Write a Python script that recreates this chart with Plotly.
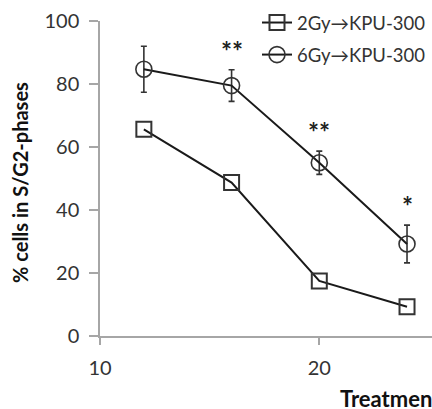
import plotly.graph_objects as go

times = [12, 16, 20, 24]
gy2_vals = [65.6, 48.7, 17.5, 9.3]
gy6_vals = [84.7, 79.5, 55.0, 29.2]
gy6_err = [7.3, 5.0, 3.7, 6.0]
stars = ["", "**", "**", "*"]
x_ticks = [10, 20]
y_ticks = [0, 20, 40, 60, 80, 100]

FONT = "Lato, 'Open Sans', sans-serif"
LINE = "#1a1a1a"
AXIS = "#a6a6a6"

fig = go.Figure()
fig.add_trace(go.Scatter(
    x=times, y=gy2_vals, mode="lines+markers", name="2Gy\u2192KPU-300", legendgroup="a",
    line=dict(color=LINE, width=2),
    marker=dict(symbol="square-open", size=15, color="#333333", line=dict(width=2)),
))
fig.add_trace(go.Scatter(
    x=times, y=gy6_vals, mode="lines+markers", name="6Gy\u2192KPU-300", legendgroup="b",
    line=dict(color=LINE, width=2),
    marker=dict(symbol="circle-open", size=16, color="#333333", line=dict(width=1.6)),
    error_y=dict(type="data", array=gy6_err, color="#333333", thickness=1.6, width=3),
))

for t, v, e, s in zip(times, gy6_vals, gy6_err, stars):
    if s:
        fig.add_annotation(x=t, y=v + e + 6, text="<b>" + s + "</b>", showarrow=False,
                           font=dict(family=FONT, size=26, color="#222222"),
                           yanchor="middle", xanchor="center")

PX_L, PX_T, PW, PH = 100, 21, 332, 315


def px(xp, yp):
    return (xp - PX_L) / PW, (PX_T + PH - yp) / PH


tx, ty = px(338, 398)
fig.add_annotation(x=tx, y=ty, xref="paper", yref="paper",
                   text="<b>Treatment time (h)</b>",
                   showarrow=False, xanchor="left", yanchor="middle",
                   font=dict(family=FONT, size=22, color="#111111"))
yx, yy = px(20, 183)
fig.add_annotation(x=yx, y=yy, xref="paper", yref="paper",
                   text="<b>% cells in S/G2-phases</b>", textangle=-90,
                   showarrow=False, xanchor="center", yanchor="middle",
                   font=dict(family=FONT, size=20, color="#111111"))

lx, ly = px(257, 4)
fig.update_layout(
    width=432, height=409,
    margin=dict(l=PX_L, r=0, t=PX_T, b=409 - PX_T - PH, pad=0, autoexpand=False),
    paper_bgcolor="white", plot_bgcolor="white",
    font=dict(family=FONT, size=20, color="#333333"),
    showlegend=True,
    legend=dict(x=lx, y=ly, xanchor="left", yanchor="top",
                bgcolor="rgba(0,0,0,0)", font=dict(size=18.5, color="#333333"),
                tracegroupgap=5, itemwidth=30),
    xaxis=dict(range=[10, 10 + 332 / 21.93], tickvals=x_ticks, showgrid=False, zeroline=False,
               showline=True, linecolor=AXIS, linewidth=1.5, ticks="outside", ticklen=7,
               tickcolor=AXIS, tickwidth=1.5, ticklabelstandoff=6),
    yaxis=dict(range=[0, 100], tickvals=y_ticks, showgrid=False, zeroline=False,
               showline=True, linecolor=AXIS, linewidth=1.5, ticks="outside", ticklen=9,
               tickcolor=AXIS, tickwidth=1.5, ticklabelstandoff=6),
)

fig.write_html("out.html")
